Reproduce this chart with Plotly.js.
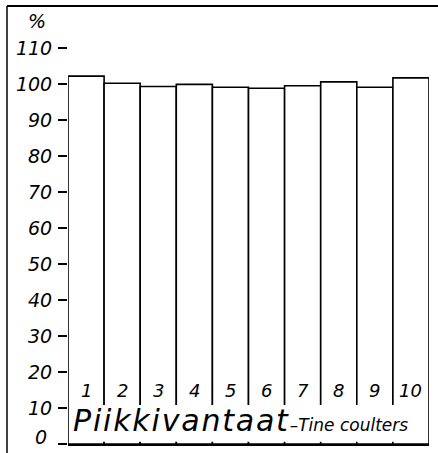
<!DOCTYPE html>
<html><head><meta charset="utf-8">
<script src="https://cdn.plot.ly/plotly-3.0.1.min.js"></script>
<style>html,body{margin:0;padding:0;background:#fff}#c{width:438px;height:453px}</style>
</head><body><div id="c"></div>
<script>
const categories = [1, 2, 3, 4, 5, 6, 7, 8, 9, 10];
const values = [102.2, 100.2, 99.3, 99.9, 99.1, 98.8, 99.5, 100.6, 99.1, 101.7];
const yTicks = [0, 10, 20, 30, 40, 50, 60, 70, 80, 90, 100, 110];
const mainLabel = 'Piikkivantaat';
const subLabel = '–Tine coulters';
const unitLabel = '%';

const FONT = 'DejaVu Sans, sans-serif';
const trace = {
  type: 'bar', x: categories, y: values, width: 1,
  marker: {color: '#fff', line: {color: '#000', width: 1.6}},
  hoverinfo: 'skip'
};
const annotations = categories.map(c => ({
  x: c, y: 15, xref: 'x', yref: 'y', text: String(c), showarrow: false,
  font: {family: FONT, size: 18, color: '#000', style: 'italic'}
}));
annotations.push({
  x: 0.58, y: 1.0, xref: 'x', yref: 'y', xanchor: 'left', yanchor: 'bottom',
  text: '<span style="letter-spacing:1.8px">' + mainLabel + '</span><span style="font-size:17px">' + subLabel + '</span>',
  showarrow: false, font: {family: FONT, size: 30, color: '#000', style: 'italic'}
});
// bottom tick label "0" sits just above the baseline in the reference
annotations.push({
  x: -0.052, y: 2, xref: 'paper', yref: 'y', xanchor: 'right', text: String(yTicks[0]), showarrow: false,
  font: {family: FONT, size: 19, color: '#000', style: 'italic'}
});
annotations.push({
  x: -0.117, y: 117.5, xref: 'paper', yref: 'y', text: unitLabel, showarrow: false,
  font: {family: FONT, size: 19, color: '#000', style: 'italic'}
});
const layout = {
  width: 438, height: 453,
  margin: {l: 68, r: 9, t: 12, b: 9},
  paper_bgcolor: '#fff', plot_bgcolor: '#fff', showlegend: false,
  bargap: 0,
  xaxis: {range: [0.5, 10.5], showticklabels: false, ticks: '', showgrid: false, zeroline: false,
          showline: true, linecolor: '#000', linewidth: 2},
  yaxis: {range: [0, 120], tickvals: yTicks, ticktext: yTicks.map(v => v === 0 ? '' : String(v)), ticks: 'outside',
          ticklen: 9, tickwidth: 1.6, tickcolor: '#000', showgrid: false, zeroline: false,
          showline: false, ticklabelstandoff: 2,
          tickfont: {family: FONT, size: 19, color: '#000', style: 'italic'}},
  shapes: [
    {type: 'rect', xref: 'x', yref: 'y', x0: 0.55, x1: 10.45, y0: 0.6, y1: 10.8,
     fillcolor: '#fff', line: {width: 0}, layer: 'above'},
    {type: 'line', xref: 'paper', yref: 'paper', x0: -0.169, x1: -0.169, y0: -0.03, y1: 1.014,
     line: {color: '#000', width: 1.5}},
    {type: 'line', xref: 'paper', yref: 'paper', x0: -0.169, x1: 1.03, y0: 1.014, y1: 1.014,
     line: {color: '#000', width: 2}}
  ],
  annotations: annotations
};
Plotly.newPlot('c', [trace], layout, {displayModeBar: false, staticPlot: true});
</script></body></html>
